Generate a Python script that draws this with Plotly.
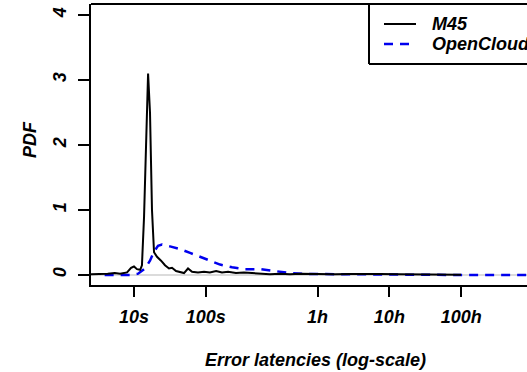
import plotly.graph_objects as go

# M45 error latency PDF (x in seconds)
m45_x = [2.5, 3.4, 4.3, 5.4, 6.4, 8.0, 9.1, 10, 11, 12.2, 12.9, 13.8, 14.7, 15.7, 16.7,
         17.8, 19.0, 20.9, 23.8, 27, 30.7, 33.8, 38.5, 43.7, 49.7, 56.5, 64.3, 77.8, 94.4,
         114, 139, 168, 204, 263, 340, 440, 569, 783, 1079, 1489, 2051, 2826, 3897, 6310,
         10190, 16480, 26670, 50600, 96200, 182800, 358000]
m45_y = [0.01, 0.01, 0.02, 0.03, 0.02, 0.04, 0.11, 0.13, 0.09, 0.08, 0.15, 0.9, 2.2, 3.1, 2.5,
         1.0, 0.35, 0.28, 0.22, 0.15, 0.10, 0.11, 0.06, 0.05, 0.03, 0.10, 0.05, 0.04, 0.05,
         0.04, 0.06, 0.04, 0.05, 0.03, 0.04, 0.03, 0.02, 0.01, 0.02, 0.01, 0.02, 0.015, 0.02, 0.01,
         0.015, 0.01, 0.015, 0.01, 0.01, 0.005, 0.005]

# OpenCloud error latency PDF
oc_x = [3.9, 8.8, 11.4, 14.2, 16.7, 19.0, 21.6, 24.5, 31.7, 43.7, 60.3, 83, 114, 158, 232,
        352, 569, 920, 1489, 2826, 7400, 26700, 96200, 358000, 3000000]
oc_y = [0.0, 0.0, 0.02, 0.10, 0.22, 0.36, 0.45, 0.47, 0.44, 0.40, 0.34, 0.28, 0.21, 0.16, 0.12,
        0.09, 0.09, 0.06, 0.03, 0.015, 0.01, 0.005, 0.002, 0.0, 0.0]

tick_vals = [10, 100, 3600, 36000, 360000]
tick_text = ["10s", "100s", "1h", "10h", "100h"]
y_ticks = [0, 1, 2, 3, 4]
series_names = ["M45", "OpenCloud"]

FONT = "Liberation Sans, Arial, sans-serif"
bi = dict(family=FONT, size=18, color="black", weight="bold", style="italic")

fig = go.Figure()
fig.add_trace(go.Scatter(x=[2.52, 3e6], y=[0, 0], mode="lines",
                         line=dict(color="#cfcfcf", width=1.5), showlegend=False, hoverinfo="skip"))
fig.add_trace(go.Scatter(x=oc_x, y=oc_y, mode="lines", name=series_names[1],
                         line=dict(color="#0000ee", width=2.5, dash="9px,7px"), showlegend=False))
fig.add_trace(go.Scatter(x=m45_x, y=m45_y, mode="lines", name=series_names[0],
                         line=dict(color="black", width=2), showlegend=False))

# frame top line and legend box (drawn manually; plot continues beyond window edge)
fig.add_shape(type="line", xref="paper", yref="paper", x0=0, x1=1.05, y0=1, y1=1,
              line=dict(color="black", width=2))
# legend
lx0 = (369 - 91) / (527 - 91)
fig.add_shape(type="line", xref="paper", yref="paper", x0=lx0, x1=lx0, y0=1, y1=(285 - 64) / 281,
              line=dict(color="black", width=2))
fig.add_shape(type="line", xref="paper", yref="paper", x0=lx0, x1=1.05, y0=(285 - 64) / 281,
              y1=(285 - 64) / 281, line=dict(color="black", width=2))
s0 = (384 - 91) / 436
s1 = (416 - 91) / 436
fig.add_shape(type="line", xref="paper", yref="paper", x0=s0, x1=s1, y0=(285 - 24) / 281,
              y1=(285 - 24) / 281, line=dict(color="black", width=2))
fig.add_shape(type="line", xref="paper", yref="paper", x0=s0, x1=s1, y0=(285 - 44) / 281,
              y1=(285 - 44) / 281, line=dict(color="#0000ee", width=2.5, dash="9px,7px"))
tx = (430 - 91) / 436
fig.add_annotation(x=tx, y=(285 - 24) / 281, xref="paper", yref="paper", text=series_names[0],
                   showarrow=False, xanchor="left", yanchor="middle", font=bi)
fig.add_annotation(x=tx, y=(285 - 44) / 281, xref="paper", yref="paper", text=series_names[1],
                   showarrow=False, xanchor="left", yanchor="middle", font=bi)

# axis titles
fig.add_annotation(x=(315 - 91) / 436, y=-75 / 281, xref="paper", yref="paper",
                   text="Error latencies (log-scale)", showarrow=False,
                   xanchor="center", yanchor="middle", font=bi)
fig.add_annotation(x=-61 / 436, y=(285 - 140) / 281, xref="paper", yref="paper",
                   text="PDF", showarrow=False, textangle=-90,
                   xanchor="center", yanchor="middle", font=bi)

fig.update_xaxes(type="log", range=[0.401, 6.473], tickvals=tick_vals, ticktext=tick_text,
                 showgrid=False, zeroline=False, showline=True, linecolor="black", linewidth=2,
                 ticks="outside", ticklen=10, tickwidth=2, tickcolor="black", tickfont=bi,
                 ticklabelstandoff=4)
fig.update_yaxes(range=[-0.154, 4.169], tickvals=y_ticks, showgrid=False, zeroline=False,
                 showline=True, linecolor="black", linewidth=2, ticks="outside", ticklen=11,
                 tickwidth=2, tickcolor="black", tickfont=bi, tickangle=-90,
                 ticklabelstandoff=5)

fig.update_layout(width=527, height=372, margin=dict(l=91, r=0, t=4, b=87),
                  plot_bgcolor="white", paper_bgcolor="white", showlegend=False)
fig.write_html("out.html")
